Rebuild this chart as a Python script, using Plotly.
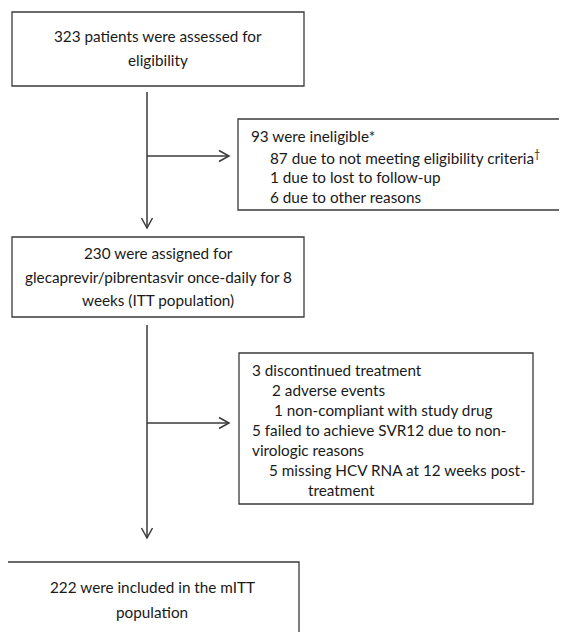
import plotly.graph_objects as go

# ---- data (counts and text) ----
assessed = 323
ineligible = 93
inelig_reasons = [87, 1, 6]
inelig_labels = ["due to not meeting eligibility criteria<sup>\u2020</sup>", "due to lost to follow-up", "due to other reasons"]
assigned = 230
discontinued = 3
disc_reasons = [2, 1]
disc_labels = ["adverse events", "non-compliant with study drug"]
failed_nonviro = 5
missing_hcv = 5
mitt = 222

FONT = "Lato"
FS = 15.3
TXT = "#1a1a1a"
LINE = "#3a3a3a"

W, H = 567, 632
OFF = 8  # page body margin offset
fig = go.Figure()

shapes = []
annots = []

def box(x0, y0, x1, y1):
    shapes.append(dict(type="rect", x0=x0, y0=y0, x1=x1, y1=y1, xref="x", yref="y",
                       line=dict(color=LINE, width=1.3), fillcolor="rgba(0,0,0,0)"))

def seg(x0, y0, x1, y1):
    shapes.append(dict(type="line", x0=x0, y0=y0, x1=x1, y1=y1, xref="x", yref="y",
                       line=dict(color=LINE, width=1.5)))

def down_arrow(x, y0, y1):
    seg(x, y0, x, y1)
    shapes.append(dict(type="path", path=f"M {x-5.5},{y1-10} L {x},{y1} L {x+5.5},{y1-10}",
                       xref="x", yref="y", line=dict(color=LINE, width=1.5)))

def right_arrow(x0, x1, y):
    seg(x0, y, x1, y)
    shapes.append(dict(type="path", path=f"M {x1-10},{y-5.5} L {x1},{y} L {x1-10},{y+5.5}",
                       xref="x", yref="y", line=dict(color=LINE, width=1.5)))

def text(x, y, s, anchor="center"):
    annots.append(dict(x=x, y=y, xref="x", yref="y", text=s, showarrow=False,
                       xanchor=anchor, yanchor="middle",
                       font=dict(family=FONT, size=FS, color=TXT)))

# Box 1
box(12, 12, 304, 86)
text(158, 36, f"{assessed} patients were assessed for")
text(158, 60, "eligibility")

# arrow 1 + branch
down_arrow(147, 92, 228)
right_arrow(147, 229, 156)

# Box 2
box(238, 119, 566, 210)
text(249, 136, f"{ineligible} were ineligible*", "left")
for i, (n, lab) in enumerate(zip(inelig_reasons, inelig_labels)):
    text(268, 157 + 20 * i, f"{n} {lab}", "left")

# Box 3
box(12, 237, 304, 317)
text(158, 253, f"{assigned} were assigned for")
text(158, 277, "glecaprevir/pibrentasvir once-daily for 8")
text(158, 300, "weeks (ITT population)")

# arrow 2 + branch
down_arrow(147, 325, 538)
right_arrow(147, 229, 423)

# Box 4
box(239, 353, 533, 504)
text(250, 370, f"{discontinued} discontinued treatment", "left")
text(270, 390, f"{disc_reasons[0]} {disc_labels[0]}", "left")
text(272, 410, f"{disc_reasons[1]} {disc_labels[1]}", "left")
text(250, 430, f"{failed_nonviro} failed to achieve SVR12 due to non-", "left")
text(250, 450, "virologic reasons", "left")
text(267, 470, f"{missing_hcv} missing HCV RNA at 12 weeks post-", "left")
text(306, 490, "treatment", "left")

# Box 5
box(6, 562, 299, 660)
text(152, 587, f"{mitt} were included in the mITT")
text(152, 612, "population")

fig.update_layout(
    width=W, height=H, margin=dict(l=0, r=0, t=0, b=0),
    paper_bgcolor="white", plot_bgcolor="white",
    xaxis=dict(range=[OFF, W + OFF], visible=False, fixedrange=True),
    yaxis=dict(range=[H + OFF, OFF], visible=False, fixedrange=True),
    shapes=shapes, annotations=annots, showlegend=False,
)
fig.write_html("out.html")
